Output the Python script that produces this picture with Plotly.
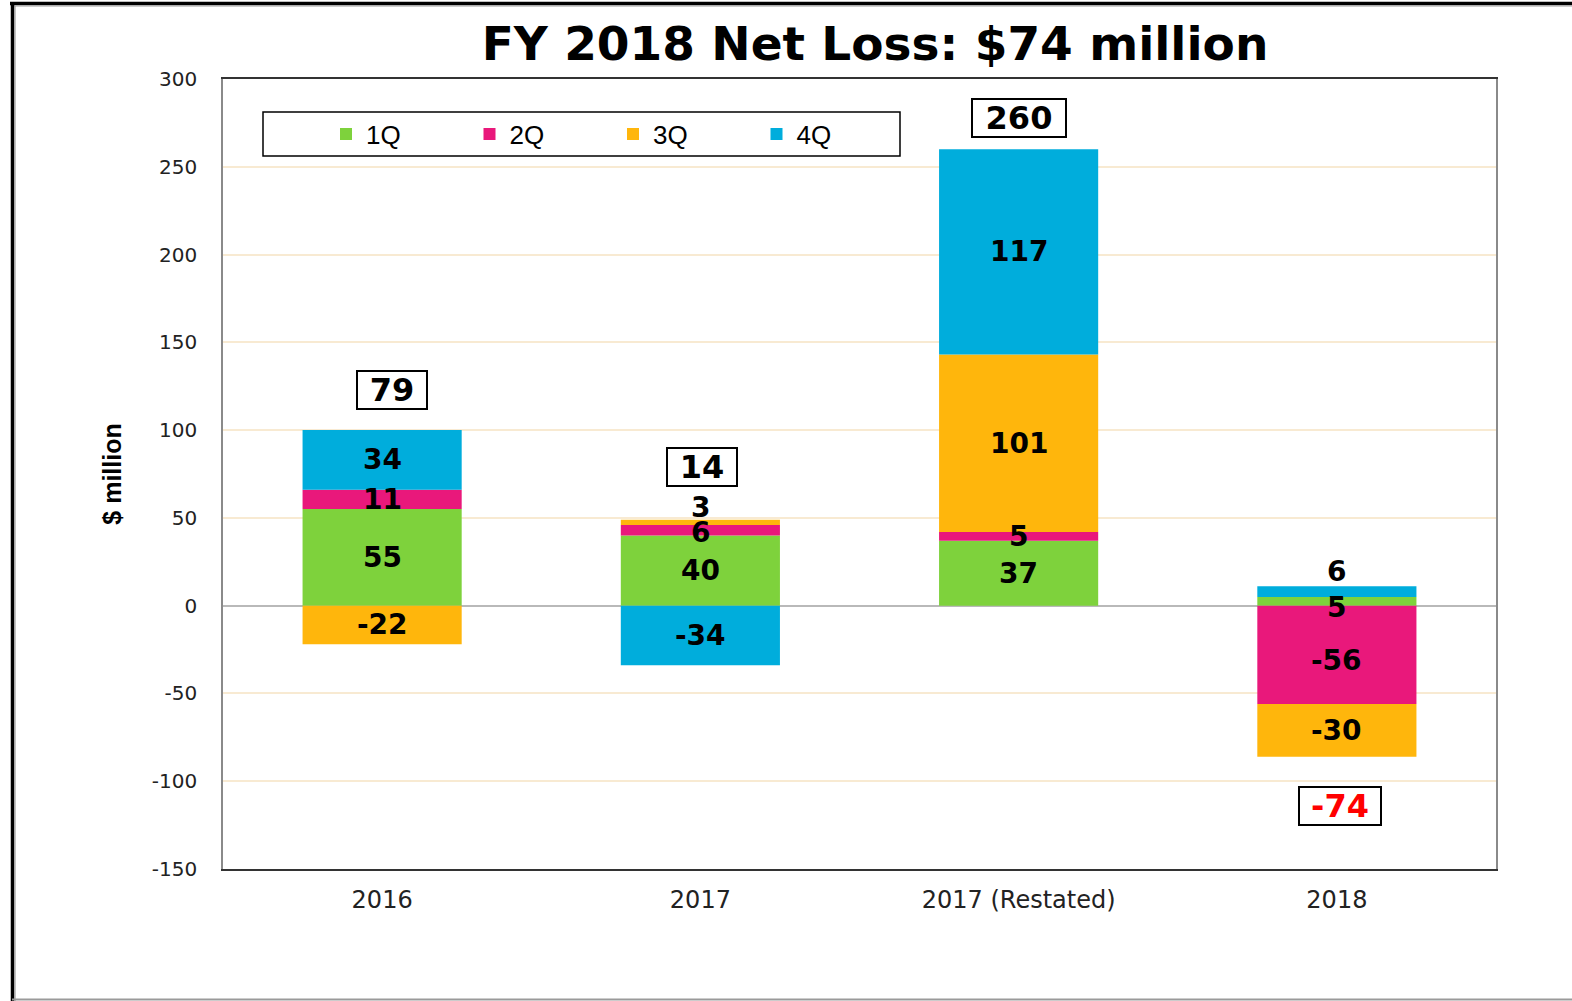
import plotly.graph_objects as go

# ---------------- data ----------------
categories = ["2016", "2017", "2017 (Restated)", "2018"]
series_names = ["1Q", "2Q", "3Q", "4Q"]
q1 = [55, 40, 37, 5]
q2 = [11, 6, 5, -56]
q3 = [-22, 3, 101, -30]
q4 = [34, -34, 117, 6]
totals = [79, 14, 260, -74]
y_tick_values = [-150, -100, -50, 0, 50, 100, 150, 200, 250, 300]
y_tick_labels = ["-150", "-100", "-50", "0", "50", "100", "150", "200", "250", "300"]

# ---------------- style ----------------
colors = ["#7ed23c", "#e9187b", "#ffb60c", "#00addc"]
W, H = 1572, 1001
ML, MR, MT, MB = 223, 76, 79, 132
PW, PH = W - ML - MR, H - MT - MB


def px_x(p):
    return (p - ML) / PW


def px_y(p):
    return (H - MB - p) / PH


series_values = [q1, q2, q3, q4]

fig = go.Figure()
for name, vals, col in zip(series_names, series_values, colors):
    fig.add_trace(go.Bar(
        x=categories, y=vals, name=name,
        marker=dict(color=col, line=dict(width=0)),
        hoverinfo="x+y+name",
    ))

# segment labels (centres of relative-stacked segments); x = category index
label_shift = {(1, 2): 15, (1, 1): -2, (3, 3): 20, (3, 0): -6, (3, 1): -6}
annotations = []
for ci, cat in enumerate(categories):
    pos_base, neg_base = 0.0, 0.0
    for si, vals in enumerate(series_values):
        v = vals[ci]
        if v >= 0:
            centre = pos_base + v / 2
            pos_base += v
        else:
            centre = neg_base + v / 2
            neg_base += v
        annotations.append(dict(
            x=ci, y=centre, xref="x", yref="y", text=str(v), showarrow=False,
            yshift=label_shift.get((ci, si), 0),
            font=dict(family="DejaVu Sans", size=28, color="black", weight="bold"),
        ))

# total boxes
total_label_y = [123, 79, 278, -114]
total_label_xshift = [10, 2, 0, 3]
for ci, (tot, ty, tx) in enumerate(zip(totals, total_label_y, total_label_xshift)):
    s = str(tot)
    ndig = sum(ch.isdigit() for ch in s)
    annotations.append(dict(
        x=ci, y=ty, xref="x", yref="y", text=s, showarrow=False, xshift=tx,
        font=dict(family="DejaVu Sans", size=32, weight="bold",
                  color="#ff0000" if tot < 0 else "black"),
        bordercolor="black", borderwidth=2, borderpad=2, bgcolor="white",
        width=16 + 24 * ndig + (12 if tot < 0 else 0), height=32,
    ))

shapes = [
    # legend frame
    dict(type="rect", xref="paper", yref="paper",
         x0=px_x(263), x1=px_x(900), y0=px_y(156), y1=px_y(112),
         line=dict(color="black", width=1.5), fillcolor="rgba(0,0,0,0)", layer="above"),
    # outer frame: thick top and left, thin grey bottom
    dict(type="line", xref="paper", yref="paper",
         x0=px_x(10), x1=px_x(W + 5), y0=px_y(3.5), y1=px_y(3.5),
         line=dict(color="black", width=3.5)),
    dict(type="line", xref="paper", yref="paper",
         x0=px_x(14), x1=px_x(W + 5), y0=px_y(6), y1=px_y(6),
         line=dict(color="#9a9a9a", width=1.2)),
    dict(type="line", xref="paper", yref="paper",
         x0=px_x(12.5), x1=px_x(12.5), y0=px_y(2), y1=px_y(H + 5),
         line=dict(color="black", width=3.5)),
    dict(type="line", xref="paper", yref="paper",
         x0=px_x(15), x1=px_x(15), y0=px_y(6), y1=px_y(H + 5),
         line=dict(color="#9a9a9a", width=1.2)),
    dict(type="line", xref="paper", yref="paper",
         x0=px_x(12), x1=px_x(W + 5), y0=px_y(999.5), y1=px_y(999.5),
         line=dict(color="#9a9a9a", width=2)),
]

fig.update_layout(
    width=W, height=H,
    margin=dict(l=ML, r=MR, t=MT, b=MB),
    paper_bgcolor="white", plot_bgcolor="white",
    barmode="relative", bargap=0.5,
    title=dict(text="<b>FY 2018 Net Loss: $74 million</b>",
               x=px_x(875), xref="paper", xanchor="center",
               y=1 - 44 / H, yref="container", yanchor="middle",
               font=dict(family="DejaVu Sans", size=47, color="black")),
    legend=dict(orientation="h", x=px_x(326), xanchor="left",
                y=px_y(134), yanchor="middle",
                bgcolor="rgba(0,0,0,0)", borderwidth=0,
                entrywidth=98.5, entrywidthmode="pixels",
                font=dict(family="Liberation Sans", size=26, color="black"),
                traceorder="normal"),
    annotations=annotations,
    shapes=shapes,
    showlegend=True,
)
fig.update_yaxes(
    range=[-150, 300], tickvals=y_tick_values, ticktext=y_tick_labels,
    showgrid=True, gridcolor="#f8ead2", gridwidth=1.5,
    zeroline=True, zerolinecolor="#b9b9b9", zerolinewidth=1.5,
    showline=True, linecolor="#8a8a8a", linewidth=1.5, mirror=True,
    ticks="", ticklabelstandoff=20,
    tickfont=dict(family="DejaVu Sans", size=20, color="#222"),
    title=dict(text="<b>$ million</b>", standoff=23,
               font=dict(family="Liberation Sans", size=25, color="black")),
)
fig.update_xaxes(
    type="category", range=[-0.5, len(categories) - 0.5],
    showline=True, linecolor="#333", linewidth=1.5, mirror=True,
    ticks="", ticklabelstandoff=8,
    tickfont=dict(family="DejaVu Sans", size=24, color="#222"),
)

fig.write_html("out.html", config={"displayModeBar": False},
               post_script="document.body.style.margin='0';document.body.style.overflow='hidden';")
